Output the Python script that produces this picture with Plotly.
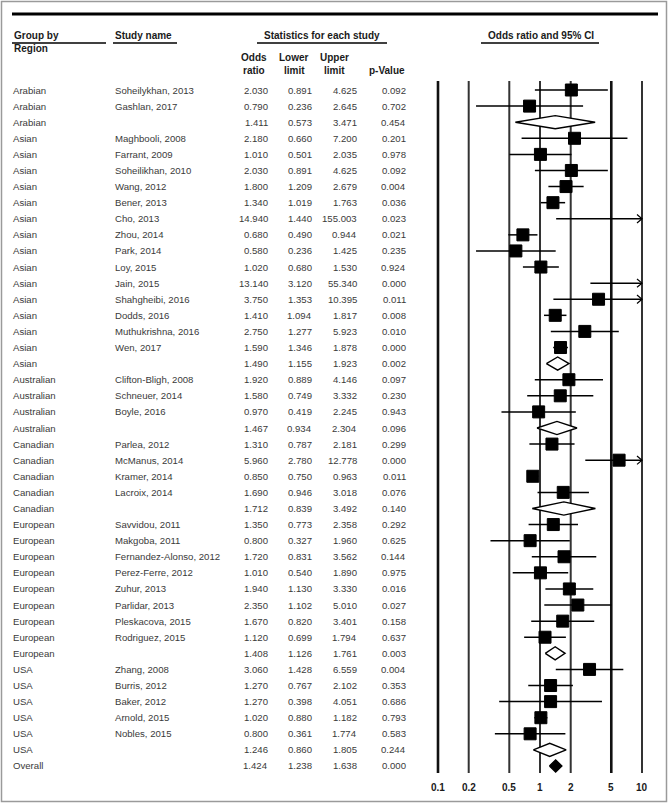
import numpy as np
import plotly.graph_objects as go

# ---------------- data ----------------
regions = ["Arabian", "Arabian", "Arabian",
           "Asian", "Asian", "Asian", "Asian", "Asian", "Asian", "Asian", "Asian", "Asian",
           "Asian", "Asian", "Asian", "Asian", "Asian", "Asian",
           "Australian", "Australian", "Australian", "Australian",
           "Canadian", "Canadian", "Canadian", "Canadian", "Canadian",
           "European", "European", "European", "European", "European", "European", "European",
           "European", "European",
           "USA", "USA", "USA", "USA", "USA", "USA",
           "Overall"]
studies = ["Soheilykhan, 2013", "Gashlan, 2017", "",
           "Maghbooli, 2008", "Farrant, 2009", "Soheilikhan, 2010", "Wang, 2012", "Bener, 2013",
           "Cho, 2013", "Zhou, 2014", "Park, 2014", "Loy, 2015", "Jain, 2015", "Shahgheibi, 2016",
           "Dodds, 2016", "Muthukrishna, 2016", "Wen, 2017", "",
           "Clifton-Bligh, 2008", "Schneuer, 2014", "Boyle, 2016", "",
           "Parlea, 2012", "McManus, 2014", "Kramer, 2014", "Lacroix, 2014", "",
           "Savvidou, 2011", "Makgoba, 2011", "Fernandez-Alonso, 2012", "Perez-Ferre, 2012",
           "Zuhur, 2013", "Parlidar, 2013", "Pleskacova, 2015", "Rodriguez, 2015", "",
           "Zhang, 2008", "Burris, 2012", "Baker, 2012", "Arnold, 2015", "Nobles, 2015", "",
           ""]
odds_ratio = [2.030, 0.790, 1.411,
              2.180, 1.010, 2.030, 1.800, 1.340, 14.940, 0.680, 0.580, 1.020, 13.140, 3.750,
              1.410, 2.750, 1.590, 1.490,
              1.920, 1.580, 0.970, 1.467,
              1.310, 5.960, 0.850, 1.690, 1.712,
              1.350, 0.800, 1.720, 1.010, 1.940, 2.350, 1.670, 1.120, 1.408,
              3.060, 1.270, 1.270, 1.020, 0.800, 1.246,
              1.424]
lower_limit = [0.891, 0.236, 0.573,
               0.660, 0.501, 0.891, 1.209, 1.019, 1.440, 0.490, 0.236, 0.680, 3.120, 1.353,
               1.094, 1.277, 1.346, 1.155,
               0.889, 0.749, 0.419, 0.934,
               0.787, 2.780, 0.750, 0.946, 0.839,
               0.773, 0.327, 0.831, 0.540, 1.130, 1.102, 0.820, 0.699, 1.126,
               1.428, 0.767, 0.398, 0.880, 0.361, 0.860,
               1.238]
upper_limit = [4.625, 2.645, 3.471,
               7.200, 2.035, 4.625, 2.679, 1.763, 155.003, 0.944, 1.425, 1.530, 55.340, 10.395,
               1.817, 5.923, 1.878, 1.923,
               4.146, 3.332, 2.245, 2.304,
               2.181, 12.778, 0.963, 3.018, 3.492,
               2.358, 1.960, 3.562, 1.890, 3.330, 5.010, 3.401, 1.794, 1.761,
               6.559, 2.102, 4.051, 1.182, 1.774, 1.805,
               1.638]
p_value = [0.092, 0.702, 0.454,
           0.201, 0.978, 0.092, 0.004, 0.036, 0.023, 0.021, 0.235, 0.924, 0.000, 0.011,
           0.008, 0.010, 0.000, 0.002,
           0.097, 0.230, 0.943, 0.096,
           0.299, 0.000, 0.011, 0.076, 0.140,
           0.292, 0.625, 0.144, 0.975, 0.016, 0.027, 0.158, 0.637, 0.003,
           0.004, 0.353, 0.686, 0.793, 0.583, 0.244,
           0.000]
tick_values = [0.1, 0.2, 0.5, 1, 2, 5, 10]
tick_labels = ["0.1", "0.2", "0.5", "1", "2", "5", "10"]

# ---------------- geometry ----------------
W, H = 668, 803
ROW0_PX = 90.0
ROW_PX = 16.095
Y_MAX = ROW0_PX / ROW_PX
Y_MIN = Y_MAX - H / ROW_PX
X_DOM = (430 / W, 650 / W)
PX_PER_DEC = 102.0
pad = 8 / PX_PER_DEC
XMIN, XMAX = tick_values[0], tick_values[-1]
X_RANGE = [np.log10(XMIN) - pad, np.log10(XMAX) + pad]


def ydata(px):
    return Y_MAX - px / ROW_PX


def py(px):
    return 1 - px / H


def pxx(px):
    return px / W


FONT = "Liberation Sans, Arial, sans-serif"
TXT = "#3a3a3a"

fig = go.Figure()

# vertical reference lines
for v in tick_values:
    heavy = v in (0.1, 5)
    fig.add_trace(go.Scatter(x=[v, v], y=[ydata(81), ydata(773)], mode="lines",
                             line=dict(color="#111111" if heavy else "#333333",
                                       width=2.6 if heavy else 2.0),
                             hoverinfo="skip"))

n = len(regions)
ci_x, ci_y = [], []
sq_x, sq_y = [], []
arrow_rows = []
for i in range(n):
    y = -i
    is_study = studies[i] != ""
    if is_study:
        lo = max(lower_limit[i], XMIN)
        hi = min(upper_limit[i], XMAX)
        ci_x += [lo, hi, None]
        ci_y += [y, y, None]
        if upper_limit[i] > XMAX:
            arrow_rows.append(i)
        if XMIN <= odds_ratio[i] <= XMAX:
            sq_x.append(odds_ratio[i])
            sq_y.append(y)
    else:
        h = 0.41 if regions[i] != "Overall" else 0.38
        overall = regions[i] == "Overall"
        fig.add_trace(go.Scatter(
            x=[lower_limit[i], odds_ratio[i], upper_limit[i], odds_ratio[i], lower_limit[i]],
            y=[y, y + h, y, y - h, y], mode="lines", fill="toself",
            fillcolor="black" if overall else "white",
            line=dict(color="black", width=1.4), hoverinfo="skip"))

fig.add_trace(go.Scatter(x=ci_x, y=ci_y, mode="lines",
                         line=dict(color="black", width=1.5), hoverinfo="skip"))
fig.add_trace(go.Scatter(x=sq_x, y=sq_y, mode="markers",
                         marker=dict(symbol="square", size=12, color="black",
                                     line=dict(color="black", width=1)),
                         hoverinfo="skip"))

# arrowheads for intervals running past the axis end
back = 10 ** (-5 / PX_PER_DEC)
ax, ay = [], []
for i in arrow_rows:
    ax += [XMAX * back, XMAX, XMAX * back, None]
    ay += [-i + 0.26, -i, -i - 0.26, None]
fig.add_trace(go.Scatter(x=ax, y=ay, mode="lines",
                         line=dict(color="black", width=1.2), hoverinfo="skip"))

annotations = []


def txt(x, y, s, anchor="left", size=9.6, bold=False, color=TXT, yref="y"):
    annotations.append(dict(
        x=x, y=y, xref="paper", yref=yref, text=("<b>%s</b>" % s) if bold else s,
        showarrow=False, xanchor=anchor, yanchor="middle",
        font=dict(family=FONT, size=size, color=color)))


# table rows
for i in range(n):
    y = -i
    txt(pxx(11), y, regions[i])
    if studies[i]:
        txt(pxx(113), y, studies[i])
    txt(pxx(270), y, "%.3f" % odds_ratio[i], anchor="right")
    txt(pxx(314), y, "%.3f" % lower_limit[i], anchor="right")
    txt(pxx(359), y, "%.3f" % upper_limit[i], anchor="right")
    txt(pxx(408), y, "%.3f" % p_value[i], anchor="right")

# headers
HC = "#1a1a1a"
txt(pxx(12), py(36), "Group by", bold=True, size=10, color=HC, yref="paper")
txt(pxx(12), py(48), "Region", bold=True, size=10, color=HC, yref="paper")
txt(pxx(113), py(36), "Study name", bold=True, size=10, color=HC, yref="paper")
txt(pxx(322), py(36), "Statistics for each study", anchor="center", bold=True, size=10,
    color=HC, yref="paper")
txt(pxx(541), py(36), "Odds ratio and 95% CI", anchor="center", bold=True, size=10,
    color=HC, yref="paper")
for cx, l1, l2 in [(254, "Odds", "ratio"), (294, "Lower", "limit"), (334, "Upper", "limit")]:
    txt(pxx(cx), py(57), l1, anchor="center", bold=True, size=10, color=HC, yref="paper")
    txt(pxx(cx), py(70), l2, anchor="center", bold=True, size=10, color=HC, yref="paper")
txt(pxx(387), py(70), "p-Value", anchor="center", bold=True, size=10, color=HC, yref="paper")

# axis tick labels
for v, lab in zip(tick_values, tick_labels):
    annotations.append(dict(x=np.log10(v), y=py(787), xref="x", yref="paper", text="<b>%s</b>" % lab,
                            showarrow=False, xanchor="center", yanchor="middle",
                            font=dict(family=FONT, size=10, color=HC)))

shapes = [
    dict(type="rect", xref="paper", yref="paper", x0=pxx(1.5), x1=pxx(666.5), y0=py(1.5),
         y1=py(801.5), line=dict(color="#9a9a9a", width=1.5)),
    dict(type="line", xref="paper", yref="paper", x0=pxx(12), x1=pxx(658), y0=py(14),
         y1=py(14), line=dict(color="black", width=3)),
]
for x0, x1 in [(12, 106), (113, 177), (257, 387), (481, 599)]:
    shapes.append(dict(type="line", xref="paper", yref="paper", x0=pxx(x0), x1=pxx(x1),
                       y0=py(43), y1=py(43), line=dict(color="black", width=1.3)))

fig.update_layout(
    width=W, height=H, margin=dict(l=0, r=0, t=0, b=0),
    paper_bgcolor="white", plot_bgcolor="white", showlegend=False,
    xaxis=dict(type="log", domain=list(X_DOM), range=X_RANGE, visible=False, fixedrange=True),
    yaxis=dict(range=[Y_MIN, Y_MAX], domain=[0, 1], visible=False, fixedrange=True),
    annotations=annotations, shapes=shapes,
)

fig.write_html("out.html", config={"displayModeBar": False},
               post_script="document.body.style.margin='0';document.body.style.padding='0';"
                           "document.body.style.overflow='hidden';")
